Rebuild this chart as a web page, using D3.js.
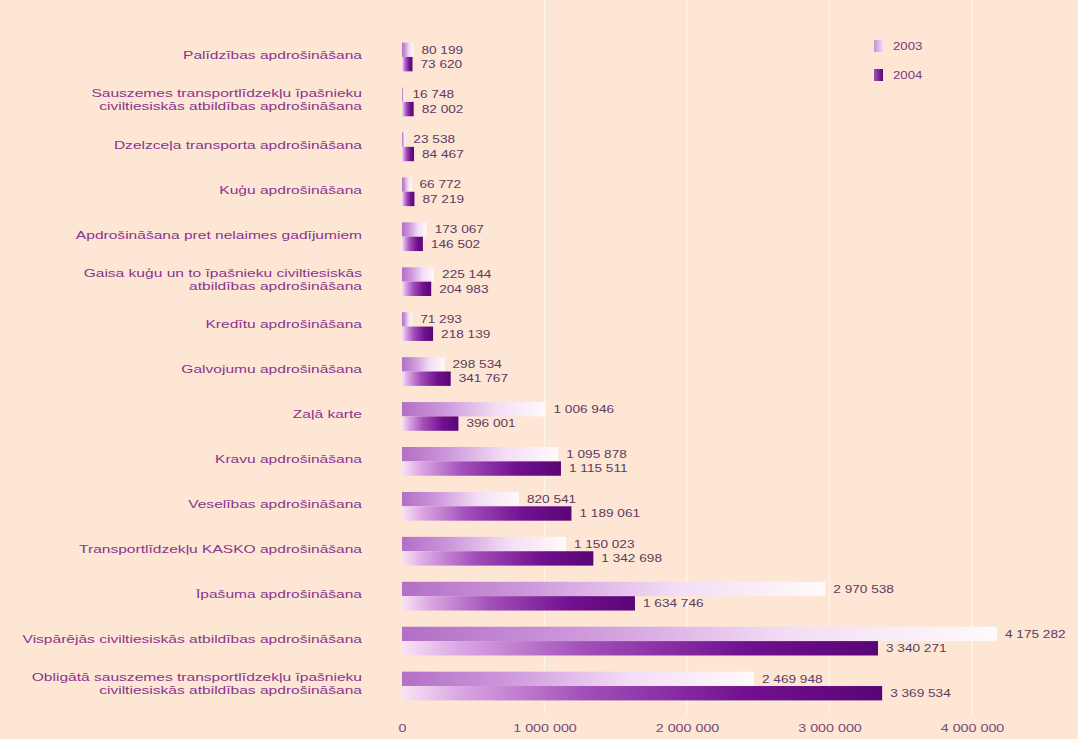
<!DOCTYPE html>
<html>
<head>
<meta charset="utf-8">
<script src="https://cdn.jsdelivr.net/npm/d3@7"></script>
<style>
  body { margin: 0; background: #fde6d4; }
  svg { display: block; font-family: "Liberation Sans", Arial, sans-serif; }
</style>
</head>
<body>
<div id="chart"></div>
<script>
// Data
const categories = [
    ["Palīdzības apdrošināšana"],
    ["Sauszemes transportlīdzekļu īpašnieku", "civiltiesiskās atbildības apdrošināšana"],
    ["Dzelzceļa transporta apdrošināšana"],
    ["Kuģu apdrošināšana"],
    ["Apdrošināšana pret nelaimes gadījumiem"],
    ["Gaisa kuģu un to īpašnieku civiltiesiskās", "atbildības apdrošināšana"],
    ["Kredītu apdrošināšana"],
    ["Galvojumu apdrošināšana"],
    ["Zaļā karte"],
    ["Kravu apdrošināšana"],
    ["Veselības apdrošināšana"],
    ["Transportlīdzekļu KASKO apdrošināšana"],
    ["Īpašuma apdrošināšana"],
    ["Vispārējās civiltiesiskās atbildības apdrošināšana"],
    ["Obligātā sauszemes transportlīdzekļu īpašnieku", "civiltiesiskās atbildības apdrošināšana"]
];
const values2003 = [80199, 16748, 23538, 66772, 173067, 225144, 71293, 298534, 1006946, 1095878, 820541, 1150023, 2970538, 4175282, 2469948];
const values2004 = [73620, 82002, 84467, 87219, 146502, 204983, 218139, 341767, 396001, 1115511, 1189061, 1342698, 1634746, 3340271, 3369534];
const years = ["2003", "2004"];
const xTicks = [0, 1000000, 2000000, 3000000, 4000000];

// dimensions
const W = 1078, H = 739;
const xLeft = 402, xRight = 972;
const plotTop = 34.5, plotBottom = 708.5;
const stretch = 1.3; // text in the source is wide

const svg = d3.select("#chart").append("svg")
    .attr("width", W)
    .attr("height", H);

svg.append("rect").attr("width", W).attr("height", H).attr("fill", "#fde6d4");

const defs = svg.append("defs");
const g03 = defs.append("linearGradient").attr("id", "g2003");
[[0, "#b26fc6"], [0.3, "#cd98dc"], [0.65, "#f3ddf5"], [1, "#fffafa"]].forEach(s =>
    g03.append("stop").attr("offset", s[0]).attr("stop-color", s[1]));
const g04 = defs.append("linearGradient").attr("id", "g2004");
[[0, "#f8e3f3"], [0.12, "#dba6e3"], [0.38, "#a24fb9"], [0.72, "#711090"], [1, "#5a0575"]].forEach(s =>
    g04.append("stop").attr("offset", s[0]).attr("stop-color", s[1]));
const gLeg03 = defs.append("linearGradient").attr("id", "leg2003");
[[0, "#c590d6"], [1, "#f1dcf3"]].forEach(s => gLeg03.append("stop").attr("offset", s[0]).attr("stop-color", s[1]));
const gLeg04 = defs.append("linearGradient").attr("id", "leg2004");
[[0, "#a050b8"], [1, "#5a0575"]].forEach(s => gLeg04.append("stop").attr("offset", s[0]).attr("stop-color", s[1]));

// scales
const x = d3.scaleLinear().domain([0, 4000000]).range([xLeft, xRight]);
const y = d3.scaleBand().domain(d3.range(categories.length)).range([plotTop, plotBottom]).paddingInner(0.36).paddingOuter(0.18);
const yInner = d3.scaleBand().domain(years).range([0, y.bandwidth()]);

const fmt = v => d3.format(",")(v).replace(/,/g, " ");

// grid lines
svg.append("g")
    .selectAll("line")
    .data(xTicks.slice(1))
    .join("line")
    .attr("x1", d => x(d)).attr("x2", d => x(d))
    .attr("y1", 0).attr("y2", 714)
    .attr("stroke", "#fff4ea")
    .attr("stroke-width", 1.5);

// x axis
const xAxis = d3.axisBottom(x)
    .tickValues(xTicks)
    .tickSize(0)
    .tickFormat(fmt);
const ax = svg.append("g").attr("transform", "translate(0,721)").call(xAxis);
ax.select(".domain").remove();
ax.selectAll(".tick text")
    .attr("fill", "#7a4a7a")
    .attr("font-size", 11)
    .attr("font-family", "Liberation Sans, Arial, sans-serif")
    .attr("transform", `scale(${stretch},1)`);

const rows = svg.append("g")
    .selectAll("g.row")
    .data(categories.map((c, i) => ({ i, c, v: [values2003[i], values2004[i]] })))
    .join("g")
    .attr("class", "row")
    .attr("transform", d => `translate(0,${y(d.i)})`);

// bars
rows.selectAll("rect")
    .data(d => years.map((yr, k) => ({ yr, v: d.v[k] })))
    .join("rect")
    .attr("x", x(0))
    .attr("y", d => yInner(d.yr))
    .attr("width", d => x(d.v) - x(0))
    .attr("height", yInner.bandwidth())
    .attr("fill", d => `url(#g${d.yr})`);

// value labels
rows.selectAll("text.val")
    .data(d => years.map((yr, k) => ({ yr, v: d.v[k] })))
    .join("text")
    .attr("class", "val")
    .attr("fill", "#5e3b60")
    .attr("font-size", 10.5)
    .attr("dy", "0.36em")
    .attr("transform", d => `translate(${x(d.v) + 8},${yInner(d.yr) + yInner.bandwidth() / 2}) scale(${stretch},1)`)
    .text(d => fmt(d.v));

// category labels
rows.append("text")
    .attr("class", "cat")
    .attr("fill", "#8a3490")
    .attr("font-size", 11.2)
    .attr("text-anchor", "end")
    .attr("transform", `translate(362,${y.bandwidth() / 2 - 2}) scale(1.39,1)`)
    .selectAll("tspan")
    .data(d => d.c.map((line, j) => ({ line, j, n: d.c.length })))
    .join("tspan")
    .attr("x", 0)
    .attr("y", d => (d.j - (d.n - 1) / 2) * 13)
    .attr("dy", "0.35em")
    .text(d => d.line);

// legend
const legend = svg.append("g").attr("transform", "translate(874,40)");
years.forEach((yr, k) => {
    legend.append("rect")
        .attr("x", 0).attr("y", k * 29)
        .attr("width", 9).attr("height", 12)
        .attr("fill", `url(#leg${yr})`);
    legend.append("text")
        .attr("fill", "#7a3a80")
        .attr("font-size", 11.5)
        .attr("dy", "0.36em")
        .attr("transform", `translate(19,${k * 29 + 6}) scale(1.15,1)`)
        .text(yr);
});
</script>
</body>
</html>
